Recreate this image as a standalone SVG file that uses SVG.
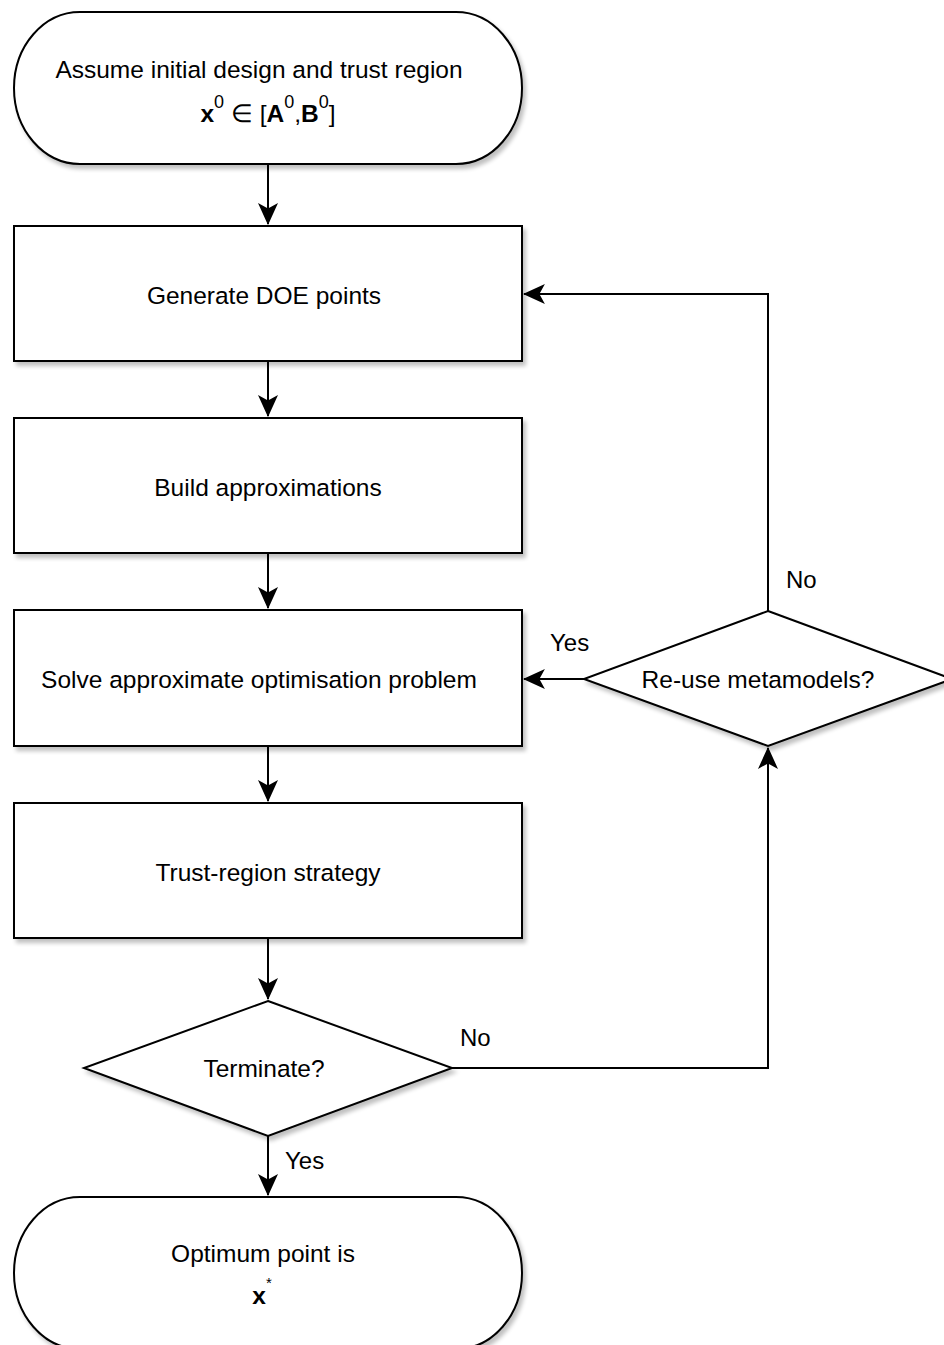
<svg xmlns="http://www.w3.org/2000/svg" width="944" height="1345" viewBox="0 0 944 1345">
<style>
.s{fill:#fff;stroke:#000;stroke-width:2;filter:url(#sh)}
.t{font-family:"Liberation Sans",Arial,sans-serif;font-size:24.5px;fill:#000;text-anchor:middle}
.l{font-family:"Liberation Sans",Arial,sans-serif;font-size:24px;fill:#000}
.c{fill:none;stroke:#000;stroke-width:2}
</style>
<defs>
<filter id="sh" x="-10%" y="-10%" width="130%" height="140%">
<feGaussianBlur in="SourceAlpha" stdDeviation="2"/>
<feOffset dx="3" dy="4" result="b"/>
<feComponentTransfer><feFuncA type="linear" slope="0.25"/></feComponentTransfer>
<feMerge><feMergeNode/><feMergeNode in="SourceGraphic"/></feMerge>
</filter>
<marker id="a" viewBox="0 0 20 20" refX="19" refY="10" markerWidth="22" markerHeight="20" markerUnits="userSpaceOnUse" orient="auto" preserveAspectRatio="none">
<path d="M0,0 L20,10 L0,20 L5,10 Z" fill="#000"/>
</marker>
</defs>
<g id="connectors">
<path class="c" d="M268,164 V224" marker-end="url(#a)"/>
<path class="c" d="M268,361 V416" marker-end="url(#a)"/>
<path class="c" d="M268,553 V608" marker-end="url(#a)"/>
<path class="c" d="M268,746 V801" marker-end="url(#a)"/>
<path class="c" d="M268,938 V999" marker-end="url(#a)"/>
<path class="c" d="M268,1136 V1195" marker-end="url(#a)"/>
<path class="c" d="M452,1068 H768 V748" marker-end="url(#a)"/>
<path class="c" d="M768,611 V294 H524" marker-end="url(#a)"/>
<path class="c" d="M584,679 H524" marker-end="url(#a)"/>
<text class="l" x="460" y="1046">No</text>
<text class="l" x="786" y="588">No</text>
<text class="l" x="550" y="651">Yes</text>
<text class="l" x="285" y="1169">Yes</text>
</g>
<g id="start">
<rect class="s" x="14" y="12" width="508" height="152" rx="66" ry="76"/>
<text class="t" x="259" y="78">Assume initial design and trust region</text>
<text class="t" x="268" y="122"><tspan font-weight="bold">x</tspan><tspan dy="-14" font-size="18">0</tspan><tspan dy="14"> ∈ [</tspan><tspan font-weight="bold">A</tspan><tspan dy="-14" font-size="18">0</tspan><tspan dy="14">,</tspan><tspan font-weight="bold">B</tspan><tspan dy="-14" font-size="18">0</tspan><tspan dy="14">]</tspan></text>
</g>
<g id="doe">
<rect class="s" x="14" y="226" width="508" height="135"/>
<text class="t" x="264" y="304">Generate DOE points</text>
</g>
<g id="build">
<rect class="s" x="14" y="418" width="508" height="135"/>
<text class="t" x="268" y="496">Build approximations</text>
</g>
<g id="solve">
<rect class="s" x="14" y="610" width="508" height="136"/>
<text class="t" x="259" y="688">Solve approximate optimisation problem</text>
</g>
<g id="trust">
<rect class="s" x="14" y="803" width="508" height="135"/>
<text class="t" x="268" y="881">Trust-region strategy</text>
</g>
<g id="terminate">
<polygon class="s" points="268,1001 452,1068 268,1136 84,1068"/>
<text class="t" x="264" y="1077">Terminate?</text>
</g>
<g id="reuse">
<polygon class="s" points="768,611 952,679 768,746 584,679"/>
<text class="t" x="758" y="688">Re-use metamodels?</text>
</g>
<g id="end">
<rect class="s" x="14" y="1197" width="508" height="152" rx="66" ry="76"/>
<text class="t" x="263" y="1262">Optimum point is</text>
<text class="t" x="262" y="1304"><tspan font-weight="bold">x</tspan><tspan dy="-16" font-size="15">*</tspan></text>
</g>
</svg>
